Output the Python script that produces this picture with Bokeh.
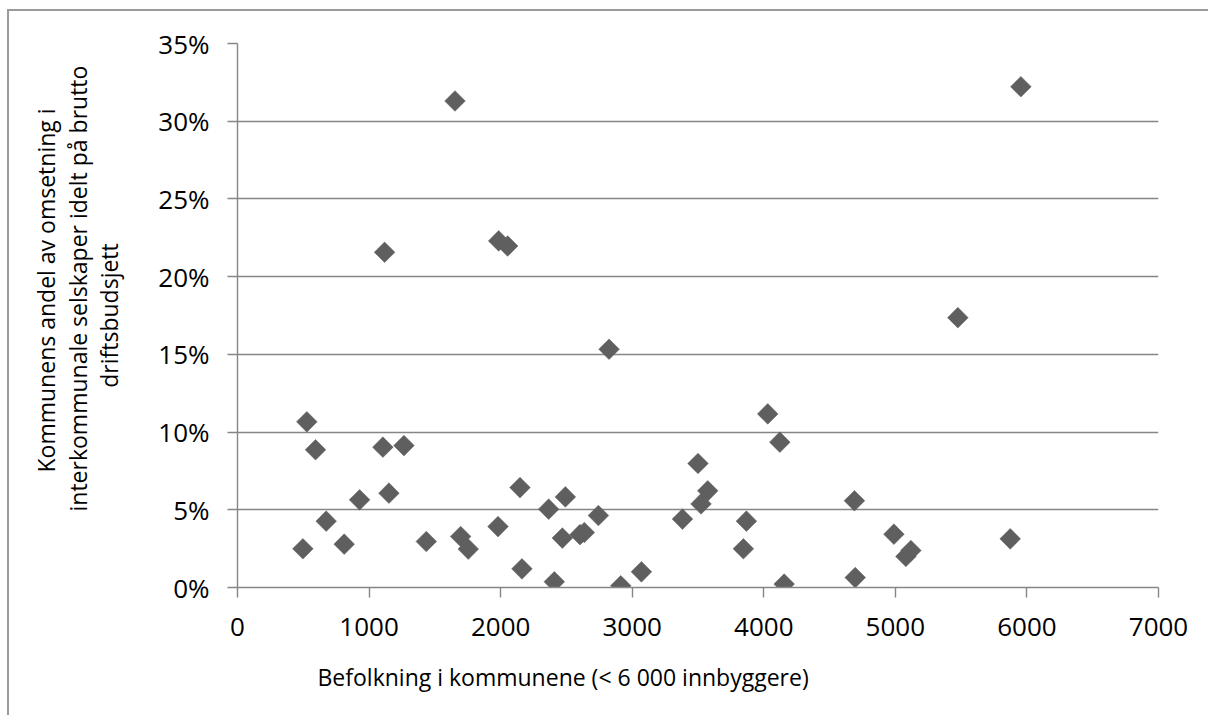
from bokeh.plotting import figure
from bokeh.models import FixedTicker, NumeralTickFormatter, Range1d, Title, ColumnDataSource
from bokeh.embed import file_html
from bokeh.resources import INLINE
import math

# Data: population (x) and share (y, percent)
befolkning = [497, 527, 593, 674, 811, 928, 1105, 1118, 1151, 1265, 1435, 1653, 1696, 1754,
              1980, 1985, 2053, 2147, 2162, 2365, 2408, 2469, 2492, 2603, 2636, 2743, 2824,
              2913, 3070, 3382, 3500, 3523, 3574, 3845, 3868, 4030, 4122, 4155, 4689, 4695,
              4989, 5080, 5118, 5475, 5873, 5954]
andel_pct = [2.49, 10.66, 8.86, 4.27, 2.79, 5.64, 9.03, 21.57, 6.07, 9.13, 2.96, 31.30, 3.28, 2.47,
             3.92, 22.30, 21.97, 6.43, 1.20, 5.04, 0.37, 3.18, 5.83, 3.40, 3.54, 4.63, 15.33,
             0.11, 1.01, 4.40, 7.98, 5.38, 6.22, 2.49, 4.27, 11.17, 9.35, 0.22, 5.58, 0.64,
             3.43, 2.00, 2.38, 17.36, 3.13, 32.22]
x_ticks = [0, 1000, 2000, 3000, 4000, 5000, 6000, 7000]
y_ticks = [0, 0.05, 0.10, 0.15, 0.20, 0.25, 0.30, 0.35]
x_title = "Befolkning i kommunene (<  6 000 innbyggere)"
y_title_lines = ["Kommunens andel av omsetning i",
                 "interkommunale selskaper idelt på brutto",
                 "driftsbudsjett"]

FONT = "Open Sans"
GRID = "#868686"
TITLE_SIZE = "23px"

src = ColumnDataSource(dict(x=befolkning, y=[v / 100 for v in andel_pct]))

p = figure(output_backend="svg", toolbar_location=None,
           frame_width=921, frame_height=544,
           min_border_left=228, min_border_top=32, min_border_right=50, min_border_bottom=128,
           x_range=Range1d(0, 7000), y_range=Range1d(0, 0.35),
           background_fill_color="white", border_fill_color="white")
p.styles = {"margin-left": "7px", "margin-top": "9px",
            "border-left": "2px solid #9a9a9a", "border-top": "2px solid #9a9a9a"}
p.outline_line_color = None

p.xaxis.ticker = FixedTicker(ticks=x_ticks)
p.yaxis.ticker = FixedTicker(ticks=y_ticks)
p.yaxis.formatter = NumeralTickFormatter(format="0%")

for ax in (p.xaxis, p.yaxis):
    ax.axis_line_color = GRID
    ax.axis_line_width = 1.4
    ax.major_tick_line_color = GRID
    ax.major_tick_line_width = 1.4
    ax.major_tick_out = 10
    ax.major_tick_in = 0
    ax.minor_tick_line_color = None
    ax.major_label_text_font = FONT
    ax.major_label_text_font_size = "26px"
    ax.major_label_text_color = "black"
p.yaxis.major_label_standoff = 18
p.xaxis.major_label_standoff = 20

# innermost line of the y title as the axis label
p.yaxis.axis_label = y_title_lines[2]
p.yaxis.axis_label_text_font = FONT
p.yaxis.axis_label_text_font_size = TITLE_SIZE
p.yaxis.axis_label_text_font_style = "normal"
p.yaxis.axis_label_text_color = "black"
p.yaxis.axis_label_standoff = 30

p.xgrid.grid_line_color = None
p.ygrid.grid_line_color = GRID
p.ygrid.grid_line_width = 1.4

p.scatter("x", "y", source=src, marker="square", size=14.6, angle=math.pi / 4,
          fill_color="#5f5f5f", line_color="#5f5f5f", line_width=0.5)

# outer lines of the y title
for line, off, so in [(y_title_lines[1], 76, -6), (y_title_lines[0], 115, 1)]:
    p.add_layout(Title(text=line, align="left", offset=off, standoff=so,
                       text_font=FONT, text_font_size=TITLE_SIZE, text_font_style="normal",
                       text_color="black"), "left")

# x title
p.add_layout(Title(text=x_title, align="left", offset=80, standoff=41,
                   text_font=FONT, text_font_size=TITLE_SIZE, text_font_style="normal",
                   text_color="black"), "below")

open("out.html", "w").write(file_html(p, INLINE))
